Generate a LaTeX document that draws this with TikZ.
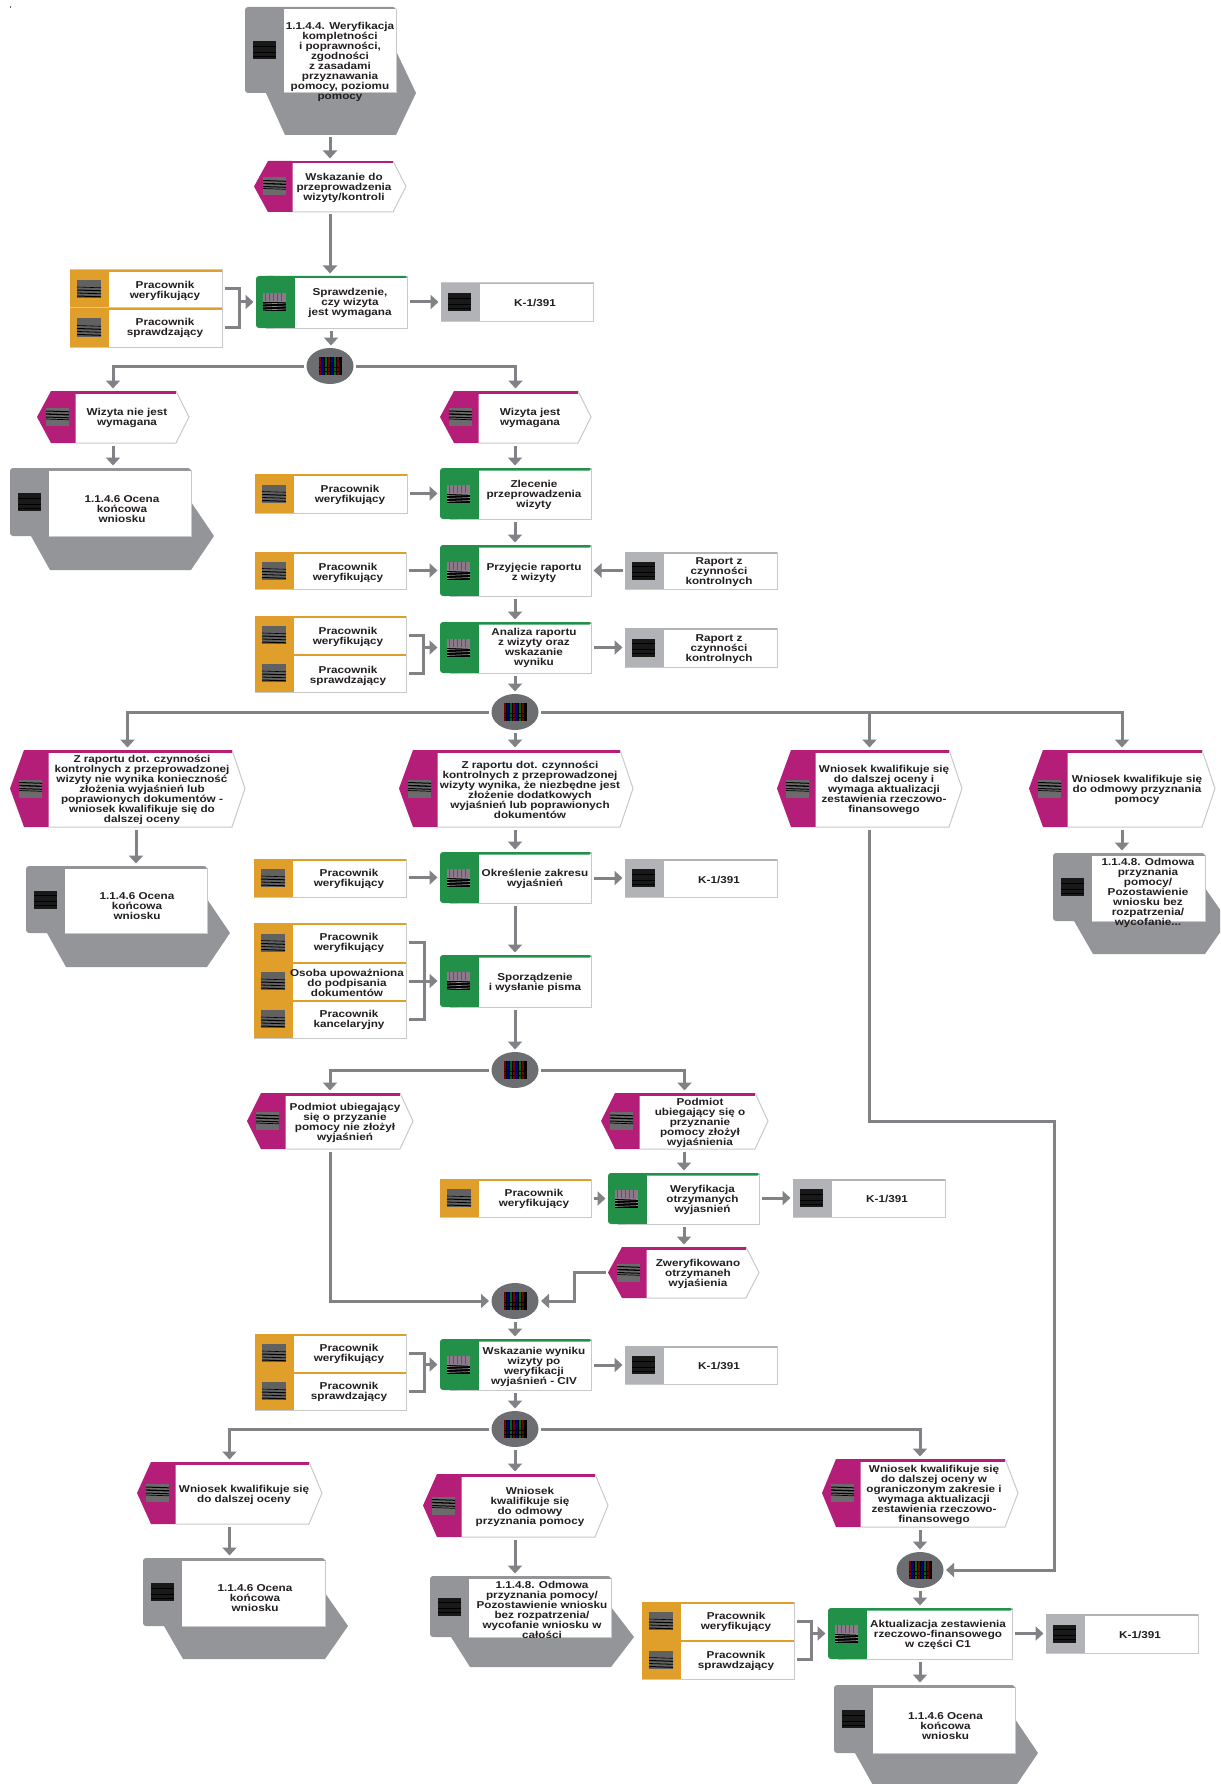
\documentclass[tikz,border=0pt]{standalone}
\usepackage{fontspec}
\setmainfont{Liberation Sans}[FakeStretch=1.17]
\usetikzlibrary{arrows.meta,shapes.geometric,calc}
\definecolor{cMag}{HTML}{B51E78}
\definecolor{cGrn}{HTML}{23904A}
\definecolor{cOrg}{HTML}{E09F2B}
\definecolor{cGry}{HTML}{939598}
\definecolor{cDoc}{HTML}{B1B3B6}
\definecolor{cLin}{HTML}{808285}
\definecolor{cBrd}{HTML}{C8C9CB}
\definecolor{cGat}{HTML}{6D6E71}
\definecolor{cTxt}{HTML}{231F20}
\newcommand{\lab}{\bfseries\fontsize{10}{10}\selectfont}
\newcommand{\tipd}{20}
\tikzset{
  lbl/.style={inner sep=0pt,align=center,font=\lab,text=cTxt,yshift=-1.2pt},
  anch/.style={inner sep=0pt,outer sep=2.5pt,draw=none},
  arr/.style={draw=cLin,line width=3pt,-{Triangle[width=14pt,length=8pt]}},
  conn/.style={draw=cLin,line width=3pt},
  brd/.style={draw=cBrd,line width=1pt},
}
% icons
\newcommand{\icR}[2]{\begin{scope}[shift={({#1},{#2})}]
  \fill[fill=black!62] (-12,-9) rectangle (12,9);
  \foreach \yy/\ss in {-2/.6,1/1,4/.8,7/1}{\draw[black,line width=\ss pt] (-12,\yy) -- (12,\yy+.8);}
\end{scope}}
\newcommand{\icE}[2]{\begin{scope}[shift={({#1},{#2})}]
  \fill[fill=black!58] (-11.5,-9) rectangle (11.5,9);
  \foreach \yy/\ss in {-6/1,-3/1.3,0/1,2/.7}{\draw[black,line width=\ss pt] (-11.5,\yy) -- (11.5,\yy+.8);}
\end{scope}}
\newcommand{\icF}[2]{\begin{scope}[shift={({#1},{#2})}]
  \fill[fill={rgb,255:red,138;green,122;blue,138}] (-11.5,-9) rectangle (11.5,0);
  \fill[black] (-11.5,0) rectangle (11.5,9);
  \foreach \xx in {-9,-5,-1,3,7}{\draw[black!65,line width=1pt] (\xx,-9) -- (\xx,-1);}
  \foreach \yy in {2,5,8}{\draw[black!45,line width=.7pt] (-11.5,\yy) -- (11.5,\yy-1);}
\end{scope}}
\newcommand{\icD}[2]{\begin{scope}[shift={({#1},{#2})}]
  \fill[black!90] (-11.5,-9) rectangle (11.5,9);
  \foreach \yy in {-4,2,6}{\draw[black,line width=.8pt] (-11.5,\yy) -- (11.5,\yy);}
\end{scope}}
\newcommand{\icG}[2]{\begin{scope}[shift={({#1},{#2})}]
  \fill[black] (-11.5,-9) rectangle (11.5,9);
  \foreach \xx/\cc in {-10/red!45!black,-7/blue!55!black,-4/green!40!black,-1/red!45!black,2/blue!55!black,5/green!40!black,8/red!45!black}{\draw[\cc,line width=1.5pt] (\xx,-9) -- (\xx,9);}
  \foreach \yy in {1,5}{\draw[black,line width=1pt] (-11.5,\yy) -- (11.5,\yy);}
\end{scope}}
% shapes: name x0 y0 x1 y1 tx ty text
\newcommand{\evt}[8]{
  \fill[white] (#2,{(#3+#5)/2}) -- (#2+14,#3) -- (#4-13,#3) -- (#4,{(#3+#5)/2}) -- (#4-13,#5) -- (#2+14,#5) -- cycle;
  \draw[brd] (#2+38.5,#5) -- (#4-13,#5) -- (#4,{(#3+#5)/2}) -- (#4-13,#3);
  \fill[cMag] (#2,{(#3+#5)/2}) -- (#2+14,#3) -- (#2+38.5,#3) -- (#2+38.5,#5) -- (#2+14,#5) -- cycle;
  \fill[cMag] (#2+14,#3) rectangle (#4-13,#3+2.5);
  \icE{#2+20.5}{(#3+#5)/2}
  \node[anch,minimum width={(#4-#2)*1pt},minimum height={(#5-#3)*1pt}] (#1) at ({(#2+#4)/2},{(#3+#5)/2}) {};
  \node[lbl] (#1t) at (#6,#7) {#8};
}
\newcommand{\func}[8]{
  \filldraw[fill=white,brd] (#2+10,#3+.5) rectangle (#4,#5);
  \fill[cGrn,rounded corners=3pt] (#2,#3) rectangle (#2+20,#5);
  \fill[cGrn] (#2+10,#3) rectangle (#2+38.5,#5);
  \fill[cGrn,rounded corners=1.5pt] (#2+10,#3) rectangle (#4,#3+2.5);
  \fill[white] (#2+38.5,#3+2.5) rectangle (#4-.5,#5-.5);
  \icF{#2+18.5}{(#3+#5)/2}
  \node[anch,minimum width={(#4-#2)*1pt},minimum height={(#5-#3)*1pt}] (#1) at ({(#2+#4)/2},{(#3+#5)/2}) {};
  \node[lbl] (#1t) at (#6,#7) {#8};
}
\newcommand{\role}[8]{
  \filldraw[fill=white,brd] (#2,#3) rectangle (#4,#5);
  \fill[cOrg] (#2,#3) rectangle (#2+38.5,#5);
  \fill[cOrg] (#2,#3) rectangle (#4,#3+2);
  \icR{#2+19}{(#3+#5)/2}
  \node[anch,minimum width={(#4-#2)*1pt},minimum height={(#5-#3)*1pt}] (#1) at ({(#2+#4)/2},{(#3+#5)/2}) {};
  \node[lbl] (#1t) at (#6,#7) {#8};
}
\newcommand{\docu}[8]{
  \filldraw[fill=white,brd] (#2,#3) rectangle (#4,#5);
  \fill[cDoc] (#2,#3) rectangle (#2+38.5,#5);
  \fill[cDoc] (#2,#3) rectangle (#4,#3+1.5);
  \icD{#2+18.5}{(#3+#5)/2}
  \node[anch,minimum width={(#4-#2)*1pt},minimum height={(#5-#3)*1pt}] (#1) at ({(#2+#4)/2},{(#3+#5)/2}) {};
  \node[lbl] (#1t) at (#6,#7) {#8};
}
% name x0 y0 x1 y1 y2 tx ty text
\newcommand{\proc}[9]{
  \fill[cGry] (#2+21,#5) -- (#2+40,#6) -- (#4,#6) -- (#4+\tipd,#5) -- (#4,{2*#5-#6}) -- cycle;
  \fill[cGry,rounded corners=3pt] (#2,#3) rectangle (#4,#5);
  \fill[white] (#2+38.5,#3+2.5) rectangle (#4,#5);
  \draw[brd] (#2+38.5,#5) -- (#4,#5) -- (#4,#3+2);
  \icD{#2+19.5}{(#3+#5)/2}
  \node[anch,minimum width={(#4+\tipd-#2)*1pt},minimum height={(#6-#3)*1pt}] (#1) at ({(#2+#4+\tipd)/2},{(#3+#6)/2}) {};
  \node[lbl] (#1t) at (#7,#8) {#9};
}
% name cx cy
\newcommand{\gate}[3]{
  \node[ellipse,fill=cGat,minimum width=47pt,minimum height=36pt,inner sep=0pt,outer sep=2.5pt] (#1) at (#2,#3) {};
  \icG{#2}{#3}
}
\newcommand{\vc}[3]{\draw[arr] (#1.south -| #3,0) -- (#2.north -| #3,0);}
\newcommand{\hc}[2]{\draw[arr] (#1.east |- #2.west) -- (#2.west);}
\newcommand{\brk}[4]{
  \draw[conn] (#1.east) -- (#1.east -| #4,0) -- (#2.east -| #4,0) -- (#2.east);
  \draw[arr] (#3.west -| #4,0) -- (#3.west);
}
\begin{document}
\begin{tikzpicture}[x=1pt,y=-1pt]
\useasboundingbox (0,0) rectangle (1220,1784);
\fill[white] (0,0) rectangle (1220,1784);
\clip (0,0) rectangle (1220,1784);
\fill[black!60] (9.5,6.5) rectangle (11,8);

\proc{P1}{245}{7}{396}{93}{135}{340}{61}{1.1.4.4. Weryfikacja\\kompletności\\i poprawności,\\zgodności\\z zasadami\\przyznawania\\pomocy, poziomu\\pomocy}
\renewcommand{\tipd}{23}
\evt{E1}{254}{161}{406}{212}{344}{187}{Wskazanie do\\przeprowadzenia\\wizyty/kontroli}
\role{R1a}{70}{270}{222}{308}{165}{289.5}{Pracownik\\weryfikujący}
\role{R1b}{70}{308}{222}{347}{165}{327}{Pracownik\\sprawdzający}
\func{F1}{256}{276}{407}{328}{350}{302}{Sprawdzenie,\\czy wizyta\\jest wymagana}
\docu{D1}{441}{283}{593}{321}{535}{302}{K-1/391}
\gate{G1}{330}{366}
\evt{E2}{37}{391}{189}{443}{127}{417}{Wizyta nie jest\\wymagana}
\evt{E3}{440}{391}{591}{443}{530}{417}{Wizyta jest\\wymagana}
\proc{P2}{10}{468}{191}{536}{570}{122}{508}{1.1.4.6 Ocena\\końcowa\\wniosku}
\role{R2}{255}{474}{407}{513}{350}{494}{Pracownik\\weryfikujący}
\func{F2}{440}{468}{591}{519}{534}{494}{Zlecenie\\przeprowadzenia\\wizyty}
\role{R3}{255}{552}{406}{589}{348}{572}{Pracownik\\weryfikujący}
\func{F3}{440}{545}{591}{596}{534}{572}{Przyjęcie raportu\\z wizyty}
\docu{D3}{625}{552}{777}{589}{719}{571}{Raport z\\czynności\\kontrolnych}
\role{R4a}{255}{616}{406}{654}{348}{636}{Pracownik\\weryfikujący}
\role{R4b}{255}{654}{406}{692}{348}{675}{Pracownik\\sprawdzający}
\func{F4}{440}{622}{591}{673}{534}{647}{Analiza raportu\\z wizyty oraz\\wskazanie\\wyniku}
\docu{D4}{625}{628}{777}{667}{719}{648}{Raport z\\czynności\\kontrolnych}
\gate{G2}{515}{712}
\evt{E4}{10}{750}{245}{827}{142}{789}{Z raportu dot. czynności\\kontrolnych z przeprowadzonej\\wizyty nie wynika konieczność\\złożenia wyjaśnień lub\\poprawionych dokumentów -\\wniosek kwalifikuje się do\\dalszej oceny}
\evt{E5}{399}{750}{633}{827}{530}{789}{Z raportu dot. czynności\\kontrolnych z przeprowadzonej\\wizyty wynika, że niezbędne jest\\złożenie dodatkowych\\wyjaśnień lub poprawionych\\dokumentów}
\evt{E6}{777}{750}{962}{827}{884}{789}{Wniosek kwalifikuje się\\do dalszej oceny i\\wymaga aktualizacji\\zestawienia rzeczowo-\\finansowego}
\evt{E7}{1029}{750}{1215}{827}{1137}{789}{Wniosek kwalifikuje się\\do odmowy przyznania\\pomocy}
\proc{P3}{26}{866}{207}{933}{967}{137}{905}{1.1.4.6 Ocena\\końcowa\\wniosku}
\proc{P4}{1053}{853}{1205}{921}{954}{1148}{892}{1.1.4.8. Odmowa\\przyznania\\pomocy/\\Pozostawienie\\wniosku bez\\rozpatrzenia/\\wycofanie...}
\role{R5}{254}{859}{406}{897}{349}{878}{Pracownik\\weryfikujący}
\func{F5}{440}{852}{591}{903}{535}{878}{Określenie zakresu\\wyjaśnień}
\docu{D5}{625}{859}{777}{897}{719}{879}{K-1/391}
\role{R6a}{254}{923}{406}{962}{349}{942}{Pracownik\\weryfikujący}
\role{R6b}{254}{962}{406}{1000}{347}{982}{Osoba upoważniona\\do podpisania\\dokumentów}
\role{R6c}{254}{1000}{406}{1038}{349}{1019}{Pracownik\\kancelaryjny}
\func{F6}{440}{955}{591}{1007}{535}{982}{Sporządzenie\\i wysłanie pisma}
\gate{G3}{515}{1070}
\evt{E8}{247}{1093}{413}{1149}{345}{1122}{Podmiot ubiegający\\się o przyzanie\\pomocy nie złożył\\wyjaśnień}
\evt{E9}{601}{1093}{768}{1149}{700}{1122}{Podmiot\\ubiegający się o\\przyznanie\\pomocy złożył\\wyjaśnienia}
\role{R7}{440}{1179}{591}{1217}{534}{1198}{Pracownik\\weryfikujący}
\func{F7}{608}{1173}{759}{1224}{702.5}{1199}{Weryfikacja\\otrzymanych\\wyjasnień}
\docu{D7}{793}{1179}{945}{1217}{887}{1198}{K-1/391}
\evt{E10}{608}{1247}{759}{1298}{698}{1273}{Zweryfikowano\\otrzymaneh\\wyjaśienia}
\gate{G4}{515}{1301}
\role{R8a}{255}{1334}{406}{1372}{349}{1353}{Pracownik\\weryfikujący}
\role{R8b}{255}{1372}{406}{1410}{349}{1391}{Pracownik\\sprawdzający}
\func{F8}{440}{1339}{591}{1390}{534}{1366}{Wskazanie wyniku\\wizyty po\\weryfikacji\\wyjaśnień - CIV}
\docu{D8}{625}{1346}{777}{1384}{719}{1365}{K-1/391}
\gate{G5}{515}{1429}
\evt{E11}{137}{1462}{322}{1524}{244}{1494}{Wniosek kwalifikuje się\\do dalszej oceny}
\evt{E12}{423}{1474}{608}{1537}{530}{1506}{Wniosek\\kwalifikuje się\\do odmowy\\przyznania pomocy}
\evt{E13}{822}{1459}{1018}{1527}{934}{1494}{Wniosek kwalifikuje się\\do dalszej oceny w\\ograniczonym zakresie i\\wymaga aktualizacji\\zestawienia rzeczowo-\\finansowego}
\proc{P5}{143}{1558}{325}{1626}{1659}{255}{1597}{1.1.4.6 Ocena\\końcowa\\wniosku}
\proc{P6}{430}{1576}{611}{1637}{1667}{542}{1609}{1.1.4.8. Odmowa\\przyznania pomocy/\\Pozostawienie wniosku\\bez rozpatrzenia/\\wycofanie wniosku w\\całości}
\gate{G6}{920}{1570}
\role{R9a}{642}{1602}{794}{1640}{736}{1621}{Pracownik\\weryfikujący}
\role{R9b}{642}{1640}{794}{1679}{736}{1660}{Pracownik\\sprawdzający}
\func{F9}{828}{1608}{1012}{1659}{938}{1634}{Aktualizacja zestawienia\\rzeczowo-finansowego\\w części C1}
\docu{D9}{1046}{1614}{1198}{1653}{1140}{1634}{K-1/391}
\proc{P7}{834}{1685}{1015}{1753}{1787}{945.5}{1725}{1.1.4.6 Ocena\\końcowa\\wniosku}

% connectors
\vc{P1}{E1}{330}
\vc{E1}{F1}{330}
\vc{F1}{G1}{331}
\brk{R1a}{R1b}{F1}{239}
\hc{F1}{D1}
\draw[arr] (G1.west) -| (E2.north);
\draw[arr] (G1.east) -| (E3.north);
\vc{E2}{P2}{113}
\vc{E3}{F2}{515}
\vc{F2}{F3}{515}
\vc{F3}{F4}{515}
\vc{F4}{G2}{515}
\hc{R2}{F2}
\hc{R3}{F3}
\draw[arr] (D3.west |- F3.east) -- (F3.east);
\brk{R4a}{R4b}{F4}{423}
\hc{F4}{D4}
\draw[arr] (G2.west) -| (E4.north);
\vc{G2}{E5}{515}
\draw[arr] (G2.east) -| (E7.north);
\draw[arr] (E6.north |- G2.east) -- (E6.north);
\vc{E4}{P3}{136}
\vc{E5}{F5}{515}
\vc{F5}{F6}{515}
\vc{F6}{G3}{515}
\hc{R5}{F5}
\hc{F5}{D5}
\brk{R6a}{R6c}{F6}{424}
\draw[conn] (R6b.east) -- (R6b.east -| 424,0);
\vc{E7}{P4}{1122}
\draw[arr] (G3.west) -| (E8.north);
\draw[arr] (G3.east) -| (E9.north);
\vc{E9}{F7}{684}
\vc{F7}{E10}{684}
\hc{R7}{F7}
\hc{F7}{D7}
\draw[arr] (E8.south) |- (G4.west);
\coordinate (b1) at (574,1301);
\draw[arr] (E10.west) -| (b1) -- (G4.east);
\vc{G4}{F8}{515}
\brk{R8a}{R8b}{F8}{424}
\hc{F8}{D8}
\vc{F8}{G5}{515}
\draw[arr] (G5.west) -| (E11.north);
\vc{G5}{E12}{515}
\draw[arr] (G5.east) -| (E13.north);
\vc{E11}{P5}{229.5}
\vc{E12}{P6}{515}
\vc{E13}{G6}{920}
\coordinate (l2) at (1054,1121);
\draw[arr] (E6.south) |- (l2) |- (G6.east);
\vc{G6}{F9}{920}
\brk{R9a}{R9b}{F9}{811}
\hc{F9}{D9}
\vc{F9}{P7}{920}
\end{tikzpicture}
\end{document}
